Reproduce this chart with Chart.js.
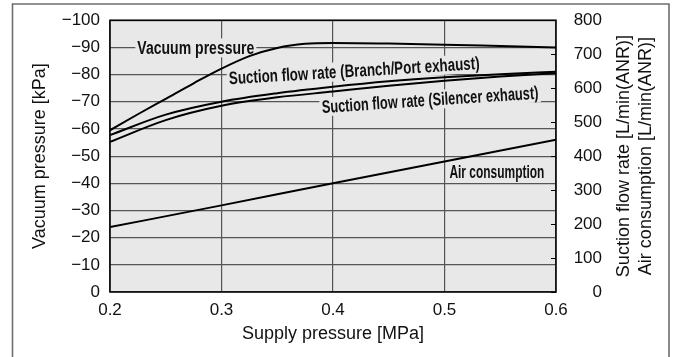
<!DOCTYPE html>
<html><head><meta charset="utf-8">
<script src="https://cdn.jsdelivr.net/npm/chart.js@4.4.1/dist/chart.umd.min.js"></script>
<style>html,body{margin:0;padding:0;background:#fff;overflow:hidden}#wrap{width:676px;height:357px;position:relative}</style>
</head><body><div id="wrap"><canvas id="c" width="676" height="357"></canvas></div>
<script>
// ---- data ----
const vacuumX = [0.2, 0.225, 0.25, 0.275, 0.3, 0.325, 0.35, 0.375, 0.4, 0.45, 0.5, 0.55, 0.6];
const vacuumPressure = [-59.5, -65.4, -71.1, -76.8, -82.2, -86.8, -89.8, -91.3, -91.6, -91.4, -91, -90.5, -90];
const flowX = [0.2, 0.25, 0.3, 0.35, 0.4, 0.45, 0.5, 0.55, 0.6];
const flowBranch = [462, 522, 560, 585, 604, 620, 632, 641, 648];
const flowSilencer = [442, 506, 548, 573, 590, 607, 622, 634, 644];
const airX = [0.2, 0.3, 0.4, 0.5, 0.6];
const airConsumption = [191, 255, 320, 384, 448];
const xTickLabels = ['0.2', '0.3', '0.4', '0.5', '0.6'];
const leftTickLabels = ['−100', '−90', '−80', '−70', '−60', '−50', '−40', '−30', '−20', '−10', '0'];
const rightTickLabels = ['0', '100', '200', '300', '400', '500', '600', '700', '800'];
const seriesNames = ['Vacuum pressure', 'Suction flow rate (Branch/Port exhaust)', 'Suction flow rate (Silencer exhaust)', 'Air consumption'];

const pts = (xs, ys) => xs.map((x, i) => ({x, y: ys[i]}));
const BG = '#e8e8e8';
const GRID = '#555555';
const INK = '#111111';

Chart.defaults.font.family = '"Liberation Sans", Arial, Helvetica, sans-serif';
Chart.defaults.color = INK;

const curveLabels = [
  {text: seriesNames[0], x: 0.277, y: -90, axis: 'y', angle: 0, width: 117},
  {text: seriesNames[1], x: 0.419, y: -81.6, axis: 'y', angle: -3.5, width: 251},
  {text: seriesNames[2], x: 0.487, y: -70.9, axis: 'y', angle: -3.8, width: 217},
  {text: seriesNames[3], x: 0.547, y: -44.2, axis: 'y', angle: 0, width: 95}
];

const bgPlugin = {
  id: 'bg',
  beforeDraw(chart) {
    const {ctx, chartArea: a} = chart;
    ctx.save();
    ctx.fillStyle = '#fff';
    ctx.fillRect(0, 0, chart.width, chart.height);
    ctx.fillStyle = BG;
    ctx.fillRect(a.left, a.top, a.right - a.left, a.bottom - a.top);
    ctx.restore();
  }
};

const labelPlugin = {
  id: 'curveLabels',
  beforeDatasetsDraw(chart) {
    const {ctx, scales} = chart;
    ctx.save();
    ctx.font = 'bold 18px "Liberation Sans", Arial, sans-serif';
    for (const L of curveLabels) {
      const px = scales.x.getPixelForValue(L.x);
      const py = scales[L.axis].getPixelForValue(L.y);
      const w = ctx.measureText(L.text).width;
      ctx.save();
      ctx.translate(px, py);
      ctx.rotate(L.angle * Math.PI / 180);
      ctx.fillStyle = BG;
      ctx.fillRect(-L.width / 2 - 2, -9, L.width + 4, 19);
      ctx.scale(L.width / w, 1);
      ctx.fillStyle = INK;
      ctx.textAlign = 'center';
      ctx.textBaseline = 'alphabetic';
      ctx.fillText(L.text, 0, 6.5);
      ctx.restore();
    }
    ctx.restore();
  }
};

const framePlugin = {
  id: 'frame',
  afterDraw(chart) {
    const {ctx, chartArea: a, scales} = chart;
    ctx.save();
    // plot border
    ctx.strokeStyle = '#000';
    ctx.lineWidth = 1.5;
    ctx.strokeRect(a.left, a.top, a.right - a.left, a.bottom - a.top);
    // inner tick marks of right axis
    ctx.lineWidth = 1.2;
    ctx.beginPath();
    for (const t of scales.y2.ticks) {
      const yy = Math.round(scales.y2.getPixelForValue(t.value)) + 0.5;
      ctx.moveTo(a.right - 5, yy);
      ctx.lineTo(a.right, yy);
    }
    ctx.stroke();
    // outer frame
    ctx.strokeStyle = '#6e6e6e';
    ctx.lineWidth = 1.6;
    ctx.beginPath();
    ctx.moveTo(12.5, chart.height);
    ctx.lineTo(12.5, 4);
    ctx.lineTo(669, 4);
    ctx.lineTo(669, chart.height);
    ctx.stroke();
    // right axis titles (read bottom-to-top)
    ctx.fillStyle = INK;
    ctx.font = '18px "Liberation Sans", Arial, sans-serif';
    ctx.textAlign = 'center';
    ctx.textBaseline = 'middle';
    const cy = (a.top + a.bottom) / 2;
    [['Suction flow rate [L/min(ANR)]', 624], ['Air consumption [L/min(ANR)]', 646]].forEach(([t, xx]) => {
      ctx.save();
      ctx.translate(xx, cy);
      ctx.rotate(-Math.PI / 2);
      ctx.fillText(t, 0, 0);
      ctx.restore();
    });
    ctx.restore();
  }
};

const lineStyle = {borderColor: '#000', borderWidth: 2, pointRadius: 0, fill: false, cubicInterpolationMode: 'monotone'};

new Chart(document.getElementById('c'), {
  type: 'line',
  data: {
    datasets: [
      {label: seriesNames[0], data: pts(vacuumX, vacuumPressure), yAxisID: 'y', ...lineStyle},
      {label: seriesNames[1], data: pts(flowX, flowBranch), yAxisID: 'y2', ...lineStyle},
      {label: seriesNames[2], data: pts(flowX, flowSilencer), yAxisID: 'y2', ...lineStyle},
      {label: seriesNames[3], data: pts(airX, airConsumption), yAxisID: 'y2', ...lineStyle}
    ]
  },
  options: {
    responsive: false,
    animation: false,
    devicePixelRatio: 1,
    layout: {padding: {top: 19.5, left: 0, right: 74, bottom: 0}},
    plugins: {legend: {display: false}, tooltip: {enabled: false}},
    scales: {
      x: {
        type: 'linear', min: 0.2, max: 0.6,
        afterFit: s => { s.height = 65; },
        afterBuildTicks: s => { s.ticks = xTickLabels.map(v => ({value: parseFloat(v)})); },
        ticks: {font: {size: 17}, padding: 8, autoSkip: false, maxRotation: 0,
          callback: (v, i) => xTickLabels[i]},
        grid: {color: GRID, lineWidth: 1.2, drawTicks: false},
        border: {display: false},
        title: {display: true, text: 'Supply pressure [MPa]', font: {size: 18}, padding: {top: 0, bottom: 12}}
      },
      y: {
        type: 'linear', position: 'left', min: -100, max: 0, reverse: true,
        afterFit: s => { s.width = 110; },
        afterBuildTicks: s => { s.ticks = leftTickLabels.map(v => ({value: parseFloat(v.replace('−', '-'))})); },
        ticks: {font: {size: 17}, padding: 10, autoSkip: false,
          callback: (v, i) => leftTickLabels[i]},
        grid: {color: GRID, lineWidth: 1.2, drawTicks: false},
        border: {display: false},
        title: {display: true, text: 'Vacuum pressure [kPa]', font: {size: 18}, padding: {top: 29, bottom: 0}}
      },
      y2: {
        type: 'linear', position: 'right', min: 0, max: 800,
        afterFit: s => { s.width = 46; },
        afterBuildTicks: s => { s.ticks = rightTickLabels.map(v => ({value: parseFloat(v)})); },
        ticks: {font: {size: 17}, padding: 0, autoSkip: false, crossAlign: 'far',
          callback: (v, i) => rightTickLabels[i]},
        grid: {display: false, drawTicks: false},
        border: {display: false}
      }
    }
  },
  plugins: [bgPlugin, labelPlugin, framePlugin]
});
</script>
</body></html>
